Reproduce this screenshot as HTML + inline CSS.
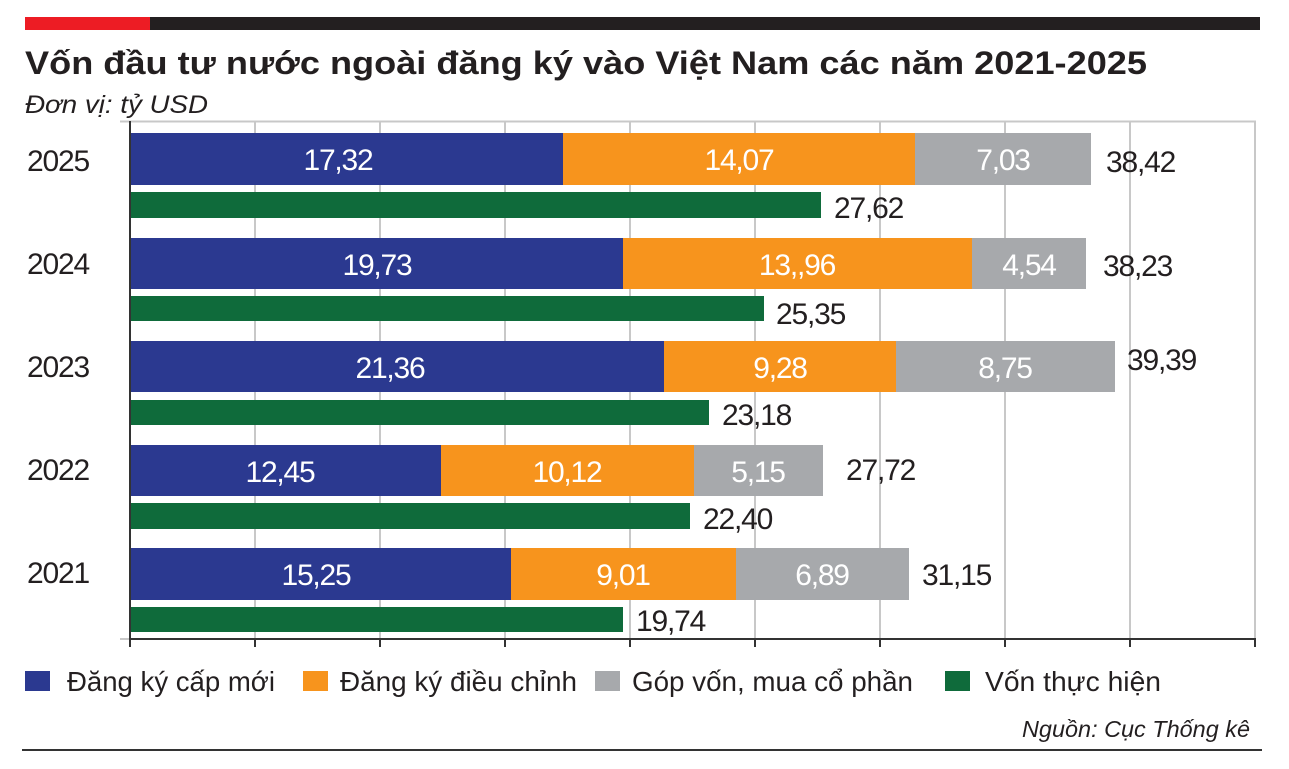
<!DOCTYPE html>
<html><head><meta charset="utf-8"><style>body{margin:0;background:#fff}svg{display:block}text{font-family:"Liberation Sans",sans-serif}.n{font-size:30px;letter-spacing:-1.2px}</style></head><body>
<svg width="1289" height="769" viewBox="0 0 1289 769">
<rect x="25" y="17" width="125" height="13" fill="#ed1c24"/>
<rect x="150" y="17" width="1110" height="13" fill="#231f20"/>
<text x="25" y="74" font-size="32" font-weight="bold" fill="#231f20" textLength="1122" lengthAdjust="spacingAndGlyphs">Vốn đầu tư nước ngoài đăng ký vào Việt Nam các năm 2021-2025</text>
<text x="25" y="113" font-size="25" font-style="italic" fill="#231f20" textLength="183" lengthAdjust="spacingAndGlyphs">Đơn vị: tỷ USD</text>
<g stroke="#c8c8c8" stroke-width="2">
<line x1="120" y1="121.5" x2="1256" y2="121.5"/>
<line x1="255" y1="121" x2="255" y2="640"/><line x1="380" y1="121" x2="380" y2="640"/><line x1="505" y1="121" x2="505" y2="640"/><line x1="630" y1="121" x2="630" y2="640"/><line x1="755" y1="121" x2="755" y2="640"/><line x1="880" y1="121" x2="880" y2="640"/><line x1="1005" y1="121" x2="1005" y2="640"/><line x1="1130" y1="121" x2="1130" y2="640"/><line x1="1255" y1="121" x2="1255" y2="640"/>
<line x1="120" y1="639" x2="130" y2="639"/>
</g>
<g stroke="#333" stroke-width="2">
<line x1="130" y1="121" x2="130" y2="647"/>
<line x1="130" y1="639" x2="1256" y2="639"/>
<line x1="255" y1="639" x2="255" y2="647"/><line x1="380" y1="639" x2="380" y2="647"/><line x1="505" y1="639" x2="505" y2="647"/><line x1="630" y1="639" x2="630" y2="647"/><line x1="755" y1="639" x2="755" y2="647"/><line x1="880" y1="639" x2="880" y2="647"/><line x1="1005" y1="639" x2="1005" y2="647"/><line x1="1130" y1="639" x2="1130" y2="647"/><line x1="1255" y1="639" x2="1255" y2="647"/>
</g>
<g class="n" fill="#231f20">
<text x="27" y="171">2025</text><text x="27" y="274">2024</text><text x="27" y="377">2023</text><text x="27" y="480">2022</text><text x="27" y="583">2021</text>
</g>
<rect x="131" y="133" width="432" height="52" fill="#2b3990"/>
<rect x="563" y="133" width="352" height="52" fill="#f7941d"/>
<rect x="915" y="133" width="176" height="52" fill="#a7a9ac"/>
<rect x="131" y="192" width="690" height="26" fill="#0f6b3b"/>
<rect x="131" y="238" width="492" height="51" fill="#2b3990"/>
<rect x="623" y="238" width="349" height="51" fill="#f7941d"/>
<rect x="972" y="238" width="114" height="51" fill="#a7a9ac"/>
<rect x="131" y="296" width="633" height="25" fill="#0f6b3b"/>
<rect x="131" y="341" width="533" height="51" fill="#2b3990"/>
<rect x="664" y="341" width="232" height="51" fill="#f7941d"/>
<rect x="896" y="341" width="219" height="51" fill="#a7a9ac"/>
<rect x="131" y="400" width="578" height="25" fill="#0f6b3b"/>
<rect x="131" y="445" width="310" height="51" fill="#2b3990"/>
<rect x="441" y="445" width="253" height="51" fill="#f7941d"/>
<rect x="694" y="445" width="129" height="51" fill="#a7a9ac"/>
<rect x="131" y="503" width="559" height="26" fill="#0f6b3b"/>
<rect x="131" y="548" width="380" height="52" fill="#2b3990"/>
<rect x="511" y="548" width="225" height="52" fill="#f7941d"/>
<rect x="736" y="548" width="173" height="52" fill="#a7a9ac"/>
<rect x="131" y="607" width="492" height="25" fill="#0f6b3b"/>
<g class="n" fill="#fff" text-anchor="middle">
<text x="338" y="170">17,32</text><text x="739" y="170">14,07</text><text x="1003" y="170">7,03</text>
<text x="377" y="275">19,73</text><text x="797" y="275">13,,96</text><text x="1029" y="275">4,54</text>
<text x="390" y="378">21,36</text><text x="780" y="378">9,28</text><text x="1005" y="378">8,75</text>
<text x="280" y="482">12,45</text><text x="567" y="482">10,12</text><text x="758" y="482">5,15</text>
<text x="316" y="585">15,25</text><text x="623" y="585">9,01</text><text x="822" y="585">6,89</text>
</g>
<g class="n" fill="#231f20">
<text x="1106" y="172">38,42</text><text x="834" y="218">27,62</text>
<text x="1103" y="276">38,23</text><text x="776" y="324">25,35</text>
<text x="1127" y="370">39,39</text><text x="722" y="425">23,18</text>
<text x="846" y="480">27,72</text><text x="703" y="529">22,40</text>
<text x="922" y="585">31,15</text><text x="636" y="631">19,74</text>
</g>
<g font-size="28" fill="#231f20">
<rect x="25" y="671" width="25" height="20" fill="#2b3990"/><text x="67" y="691" textLength="208" lengthAdjust="spacingAndGlyphs">Đăng ký cấp mới</text>
<rect x="303" y="671" width="25" height="20" fill="#f7941d"/><text x="340" y="691" textLength="237" lengthAdjust="spacingAndGlyphs">Đăng ký điều chỉnh</text>
<rect x="595" y="671" width="25" height="20" fill="#a7a9ac"/><text x="632" y="691" textLength="281" lengthAdjust="spacingAndGlyphs">Góp vốn, mua cổ phần</text>
<rect x="945" y="671" width="25" height="20" fill="#0f6b3b"/><text x="985" y="691" textLength="176" lengthAdjust="spacingAndGlyphs">Vốn thực hiện</text>
</g>
<text x="1250" y="737" font-size="23" font-style="italic" fill="#231f20" text-anchor="end" textLength="228" lengthAdjust="spacingAndGlyphs">Nguồn: Cục Thống kê</text>
<line x1="22" y1="750" x2="1262" y2="750" stroke="#333" stroke-width="2"/>
</svg>
</body></html>
